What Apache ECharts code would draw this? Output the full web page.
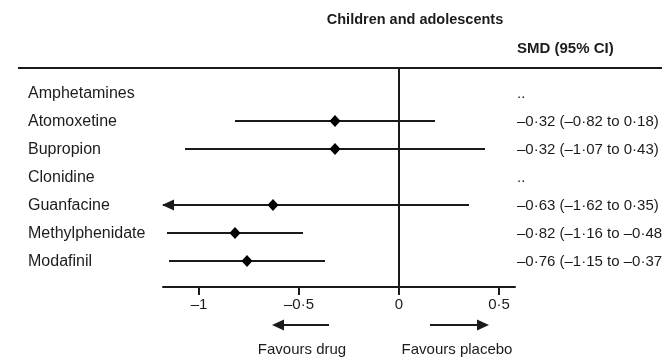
<!DOCTYPE html>
<html>
<head>
<meta charset="utf-8">
<script src="https://cdn.jsdelivr.net/npm/echarts@6/dist/echarts.min.js"></script>
<style>
html,body{margin:0;padding:0;background:#fff;}
#chart{width:662px;height:358px;}
</style>
</head>
<body>
<div id="chart"></div>
<script>
const drugs = ['Amphetamines','Atomoxetine','Bupropion','Clonidine','Guanfacine','Methylphenidate','Modafinil'];
const smd = [null,-0.32,-0.32,null,-0.63,-0.82,-0.76];
const ciLow = [null,-0.82,-1.07,null,-1.62,-1.16,-1.15];
const ciHigh = [null,0.18,0.43,null,0.35,-0.48,-0.37];
const tickValues = [-1,-0.5,0,0.5];
const tickLabels = ['–1','–0·5','0','0·5'];
const title = 'Children and adolescents';
const colHeader = 'SMD (95% CI)';
const favoursLeft = 'Favours drug';
const favoursRight = 'Favours placebo';

const X_MIN = -1.18, X_MAX = 0.58;
const FONT = '"Liberation Sans", Arial, sans-serif';
const SZ = {label:16, right:15, tick:15, title:14.5, head:15, fav:15};
const INK = '#1a1a1a';
const TXT = '#1c1c1c';

function fmt(v){ return (v < 0 ? '–' : '') + Math.abs(v).toFixed(2).replace('.', '·'); }

const data = drugs.map((d, i) => [i,
  smd[i] == null ? '-' : smd[i],
  ciLow[i] == null ? '-' : ciLow[i],
  ciHigh[i] == null ? '-' : ciHigh[i]]);

const chart = echarts.init(document.getElementById('chart'), null, {renderer:'canvas'});

function renderItem(params, api){
  const i = api.value(0);
  const y = api.coord([0, i])[1];
  const ty = y + 1;
  const children = [];
  children.push({type:'text', style:{text: drugs[i], x:28, y:ty, verticalAlign:'middle', align:'left',
    fontSize:SZ.label, fontFamily:FONT, fill:TXT}});
  const est = api.value(1);
  if (est == null || isNaN(est)) {
    children.push({type:'text', style:{text:'..', x:517, y:ty, verticalAlign:'middle', align:'left',
      fontSize:SZ.right, fontFamily:FONT, fill:TXT}});
  } else {
    const lo = api.value(2), hi = api.value(3);
    const p1 = api.coord([Math.max(lo, X_MIN), i]);
    const p2 = api.coord([Math.min(hi, X_MAX), i]);
    children.push({type:'line', shape:{x1:p1[0], y1:y, x2:p2[0], y2:y},
      style:{stroke:INK, lineWidth:2}});
    if (lo < X_MIN) {
      children.push({type:'polygon', shape:{points:[[p1[0]-1, y],[p1[0]+11, y-5.5],[p1[0]+11, y+5.5]]},
        style:{fill:INK}});
    }
    const pe = api.coord([est, i]);
    children.push({type:'polygon', shape:{points:[[pe[0]-5.5, y],[pe[0], y-6],[pe[0]+5.5, y],[pe[0], y+6]]},
      style:{fill:'#000'}});
    children.push({type:'text', style:{text: fmt(est) + ' (' + fmt(lo) + ' to ' + fmt(hi) + ')',
      x:517, y:ty, verticalAlign:'middle', align:'left', fontSize:SZ.right, fontFamily:FONT, fill:TXT}});
  }
  return {type:'group', children:children};
}

const option = {
  animation:false,
  backgroundColor:'#fff',
  grid:{left:163, right:147, top:68, bottom:71, containLabel:false},
  xAxis:{
    type:'value', min:X_MIN, max:X_MAX,
    axisLine:{show:true, onZero:false, lineStyle:{color:INK, width:2}},
    axisTick:{show:true, length:8, inside:false, customValues:tickValues, lineStyle:{color:INK, width:2}},
    axisLabel:{show:true, customValues:tickValues, margin:10, fontSize:SZ.tick, fontFamily:FONT, color:TXT,
      formatter:function(v){ const k = tickValues.indexOf(v); return k >= 0 ? tickLabels[k] : ''; }},
    splitLine:{show:false}
  },
  yAxis:{type:'value', inverse:true, min:-0.893, max:6.929, show:false, splitLine:{show:false}},
  series:[{
    type:'custom', renderItem:renderItem, data:data, clip:false,
    encode:{x:[1,2,3], y:0},
    markLine:{silent:true, symbol:'none', label:{show:false},
      lineStyle:{color:INK, width:2, type:'solid'}, data:[{xAxis:0}]}
  }],
  graphic:[
    {type:'line', shape:{x1:18, y1:68, x2:662, y2:68}, style:{stroke:INK, lineWidth:2}},
    {type:'text', style:{text:title, x:415, y:20, align:'center', verticalAlign:'middle',
      fontSize:SZ.title, fontWeight:'bold', fontFamily:FONT, fill:TXT}},
    {type:'text', style:{text:colHeader, x:517, y:49, align:'left', verticalAlign:'middle',
      fontSize:SZ.head, fontWeight:'bold', fontFamily:FONT, fill:TXT}},
    {type:'line', shape:{x1:282, y1:325, x2:329, y2:325}, style:{stroke:INK, lineWidth:2}},
    {type:'polygon', shape:{points:[[272,325],[284,319.5],[284,330.5]]}, style:{fill:INK}},
    {type:'line', shape:{x1:430, y1:325, x2:478, y2:325}, style:{stroke:INK, lineWidth:2}},
    {type:'polygon', shape:{points:[[489,325],[477,319.5],[477,330.5]]}, style:{fill:INK}},
    {type:'text', style:{text:favoursLeft, x:302, y:350, align:'center', verticalAlign:'middle',
      fontSize:SZ.fav, fontFamily:FONT, fill:TXT}},
    {type:'text', style:{text:favoursRight, x:457, y:350, align:'center', verticalAlign:'middle',
      fontSize:SZ.fav, fontFamily:FONT, fill:TXT}}
  ]
};
chart.setOption(option);
</script>
</body>
</html>
